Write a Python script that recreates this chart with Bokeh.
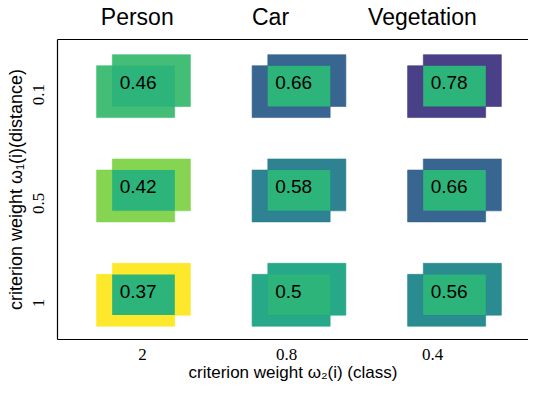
from bokeh.plotting import figure
from bokeh.models import ColumnDataSource, Range1d, FixedTicker, LinearAxis
from bokeh.transform import dodge, linear_cmap
from bokeh.palettes import Viridis256
from bokeh.core.properties import value
from bokeh.embed import file_html
from bokeh.resources import INLINE

# ---- data ----
columns = ["Person", "Car", "Vegetation"]
class_weights = ["2", "0.8", "0.4"]          # x tick labels
distance_weights = ["0.1", "0.5", "1"]        # y tick labels (top to bottom)
person = [0.46, 0.42, 0.37]
car = [0.66, 0.58, 0.50]
vegetation = [0.78, 0.66, 0.56]

series = [person, car, vegetation]
xs, ys, vals, inv, labels = [], [], [], [], []
for ci, col_vals in enumerate(series):
    for ri, v in enumerate(col_vals):
        xs.append(ci)
        ys.append(len(distance_weights) - 1 - ri)
        vals.append(v)
        inv.append(1.0 / v)
        labels.append(f"{v:g}")
src = ColumnDataSource(dict(x=xs, y=ys, value=vals, inv=inv, label=labels))

# ---- figure ----
p = figure(width=528, height=384, output_backend="svg", toolbar_location=None,
           x_range=Range1d(-0.553, 2.476), y_range=Range1d(-0.429, 2.447),
           min_border_left=57, min_border_right=0, min_border_top=37, min_border_bottom=43,
           x_axis_location=None, y_axis_location=None)
p.grid.visible = False
p.outline_line_color = None
p.background_fill_color = "white"

BW, BH = 0.502, 0.497      # box size (data units)
DX, DY = 0.0505, 0.053     # box offsets
IW, IH = 0.403, 0.39       # intersection size

cmap = linear_cmap("inv", palette=Viridis256, low=0.991, high=2.703)

p.rect(x=dodge("x", -DX, range=p.x_range), y=dodge("y", -DY, range=p.y_range),
       width=BW, height=BH, source=src, fill_color=cmap, line_color=cmap,
       line_alpha=0.6, fill_alpha=0.97)
p.rect(x=dodge("x", DX, range=p.x_range), y=dodge("y", DY, range=p.y_range),
       width=BW, height=BH, source=src, fill_color=cmap, line_color=cmap,
       line_alpha=0.6, fill_alpha=0.97)
p.rect(x="x", y="y", width=IW, height=IH, source=src,
       fill_color="#2db47b", line_color=None)
p.text(x=dodge("x", -IW / 2, range=p.x_range), y="y", text="label", source=src,
       text_align="left", text_baseline="middle", x_offset=7.5, y_offset=-3.5,
       text_font=value("Liberation Sans"), text_font_size="19px", text_color="black")

def style_axis(ax):
    ax.major_tick_line_color = None
    ax.minor_tick_line_color = None
    ax.axis_line_color = "black"
    ax.axis_line_width = 1.2
    ax.major_label_text_color = "black"
    ax.axis_label_text_color = "black"
    ax.axis_label_text_font = "Liberation Sans"
    ax.axis_label_text_font_style = "normal"
    ax.axis_label_text_font_size = "18px"

# bottom axis
xtk = [-0.006, 0.92, 1.86]
xa = LinearAxis(ticker=FixedTicker(ticks=xtk),
                major_label_overrides={t: l for t, l in zip(xtk, class_weights)},
                axis_label="criterion weight ω₂(i) (class)")
style_axis(xa)
xa.major_label_text_font = "Liberation Serif"
xa.major_label_text_font_size = "17px"
xa.major_label_standoff = 3
xa.axis_label_standoff = 0
xa.axis_label_text_font_size = "17px"
p.add_layout(xa, "below")

# left axis
ytk = [1.918, 0.877, -0.079]
ya = LinearAxis(ticker=FixedTicker(ticks=ytk),
                major_label_overrides={t: l for t, l in zip(ytk, distance_weights)},
                axis_label="criterion weight ω₁(i)(distance)")
style_axis(ya)
ya.major_label_text_font = "Liberation Serif"
ya.major_label_text_font_size = "17px"
ya.major_label_orientation = "vertical"
ya.major_label_standoff = 7
ya.axis_label_standoff = 5
p.add_layout(ya, "left")

# top axis with column titles
ttk = [-0.04, 0.817, 1.794]
ta = LinearAxis(ticker=FixedTicker(ticks=ttk),
                major_label_overrides={t: l for t, l in zip(ttk, columns)})
style_axis(ta)
ta.major_label_text_font = "Liberation Sans"
ta.major_label_text_font_size = "23px"
ta.major_label_standoff = 4
p.add_layout(ta, "above")

open("out.html", "w").write(file_html(p, INLINE))
